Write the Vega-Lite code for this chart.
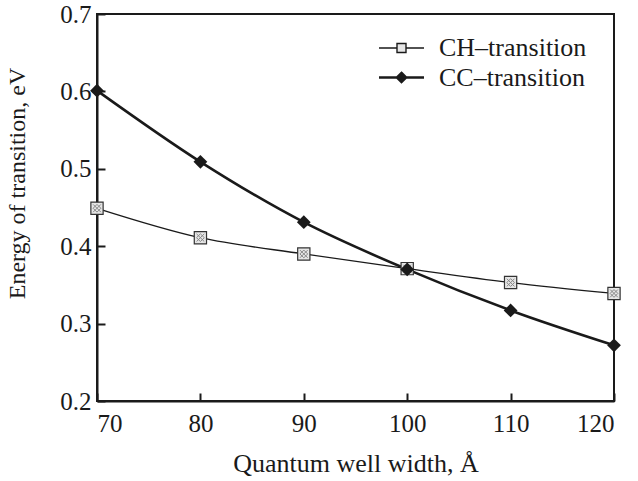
{
  "$schema": "https://vega.github.io/schema/vega-lite/v6.json",
  "width": 517,
  "height": 387,
  "autosize": {"type": "none"},
  "padding": {"left": 97, "top": 14, "right": 24, "bottom": 80},
  "background": "white",
  "config": {
    "font": "Liberation Serif",
    "view": {"stroke": "#1a1a1a", "strokeWidth": 2},
    "axis": {"domainColor": "#1a1a1a", "domainWidth": 2, "tickColor": "#1a1a1a", "tickWidth": 2, "labelColor": "#1a1a1a", "titleColor": "#1a1a1a", "labelFont": "Liberation Serif", "titleFont": "Liberation Serif", "labelFontSize": 25, "titleFontSize": 26, "titleFontWeight": "normal", "grid": false}
  },
  "data": {"values": [
    {"width": 70, "energy": 0.449, "series": "CH–transition"},
    {"width": 80, "energy": 0.411, "series": "CH–transition"},
    {"width": 90, "energy": 0.390, "series": "CH–transition"},
    {"width": 100, "energy": 0.371, "series": "CH–transition"},
    {"width": 110, "energy": 0.353, "series": "CH–transition"},
    {"width": 120, "energy": 0.339, "series": "CH–transition"},
    {"width": 70, "energy": 0.601, "series": "CC–transition"},
    {"width": 80, "energy": 0.509, "series": "CC–transition"},
    {"width": 90, "energy": 0.431, "series": "CC–transition"},
    {"width": 100, "energy": 0.370, "series": "CC–transition"},
    {"width": 110, "energy": 0.317, "series": "CC–transition"},
    {"width": 120, "energy": 0.272, "series": "CC–transition"}
  ]},
  "encoding": {
    "x": {"field": "width", "type": "quantitative", "scale": {"domain": [70, 120], "nice": false},
      "axis": {"values": [70, 80, 90, 100, 110, 120], "tickSize": -8, "labelPadding": 18, "title": "Quantum well width, Å", "titlePadding": 14}},
    "y": {"field": "energy", "type": "quantitative", "scale": {"domain": [0.2, 0.7], "nice": false, "zero": false},
      "axis": {"values": [0.2, 0.3, 0.4, 0.5, 0.6, 0.7], "format": ".1f", "tickSize": -8, "labelPadding": 14, "title": "Energy of transition, eV", "titleFontSize": 24, "titlePadding": 30, "titleY": 169}}
  },
  "layer": [
    {
      "transform": [{"filter": "datum.series === 'CH–transition'"}],
      "mark": {"type": "line", "interpolate": "monotone", "color": "#1a1a1a", "strokeWidth": 1.3}
    },
    {
      "transform": [{"filter": "datum.series === 'CC–transition'"}],
      "mark": {"type": "line", "interpolate": "monotone", "color": "#1a1a1a", "strokeWidth": 2.6}
    },
    {
      "transform": [{"filter": "datum.series === 'CH–transition'"}],
      "mark": {"type": "point", "shape": "square", "filled": true, "fill": "#e6e6e6", "stroke": "#333333", "strokeWidth": 1.2, "size": 150, "opacity": 1}
    },
    {
      "transform": [{"filter": "datum.series === 'CH–transition'"}],
      "mark": {"type": "point", "shape": "M-1,-1L1,1M1,-1L-1,1M0,-1L1,0L0,1L-1,0Z", "filled": false, "stroke": "#888888", "strokeWidth": 1, "size": 60, "opacity": 1}
    },
    {
      "transform": [{"filter": "datum.series === 'CC–transition'"}],
      "mark": {"type": "point", "shape": "diamond", "filled": true, "color": "#1a1a1a", "size": 190, "opacity": 1}
    },
    {
      "mark": {"type": "point", "filled": true, "opacity": 0},
      "encoding": {
        "shape": {"field": "series", "type": "nominal", "scale": {"domain": ["CH–transition", "CC–transition"], "range": ["M-1.5,0H-0.3M0.3,0H1.5M-0.3,-0.3H0.3V0.3H-0.3Z", "M-1.5,0H1.5M0,-0.3L0.3,0L0,0.3L-0.3,0Z"]},
          "legend": {"title": null, "orient": "none", "legendX": 288, "legendY": 18, "labelFont": "Liberation Serif", "labelFontSize": 26, "labelColor": "#1a1a1a", "symbolSize": 900, "symbolOpacity": 1, "symbolStrokeColor": "#1a1a1a", "symbolStrokeWidth": 1.8, "rowPadding": 0, "labelOffset": 21}},
        "fill": {"field": "series", "type": "nominal", "scale": {"domain": ["CH–transition", "CC–transition"], "range": ["#e6e6e6", "#1a1a1a"]},
          "legend": {"title": null, "orient": "none", "legendX": 288, "legendY": 18, "labelFont": "Liberation Serif", "labelFontSize": 26, "labelColor": "#1a1a1a", "symbolSize": 900, "symbolOpacity": 1, "symbolStrokeColor": "#1a1a1a", "symbolStrokeWidth": 1.8, "rowPadding": 0, "labelOffset": 21}},
        "stroke": {"field": "series", "type": "nominal", "scale": {"domain": ["CH–transition", "CC–transition"], "range": ["#1a1a1a", "#1a1a1a"]},
          "legend": {"title": null, "orient": "none", "legendX": 288, "legendY": 18, "labelFont": "Liberation Serif", "labelFontSize": 26, "labelColor": "#1a1a1a", "symbolSize": 900, "symbolOpacity": 1, "symbolStrokeColor": "#1a1a1a", "symbolStrokeWidth": 1.8, "rowPadding": 0, "labelOffset": 21}},
        "strokeWidth": {"field": "series", "type": "nominal", "scale": {"domain": ["CH–transition", "CC–transition"], "range": [1.4, 2.6]},
          "legend": {"title": null, "orient": "none", "legendX": 288, "legendY": 18, "labelFont": "Liberation Serif", "labelFontSize": 26, "labelColor": "#1a1a1a", "symbolSize": 900, "symbolOpacity": 1, "symbolStrokeColor": "#1a1a1a", "rowPadding": 0, "labelOffset": 21}}
      }
    }
  ]
}
